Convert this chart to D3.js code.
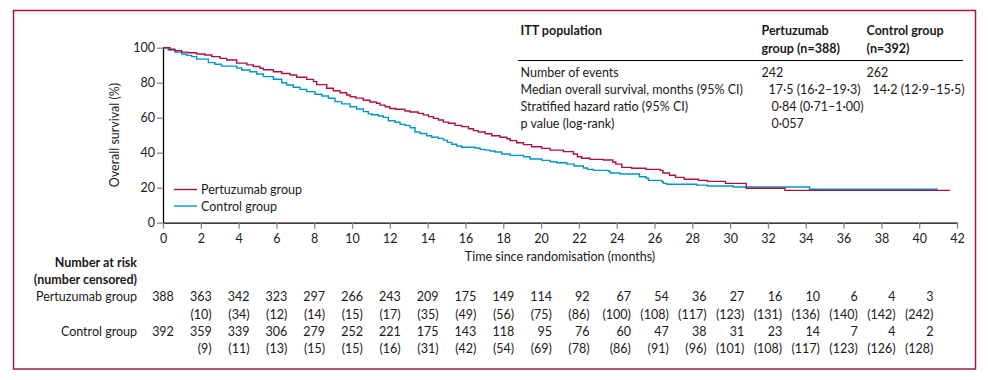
<!DOCTYPE html>
<html><head><meta charset="utf-8">
<script src="https://cdn.jsdelivr.net/npm/d3@7"></script>
<style>
html,body{margin:0;padding:0;background:#fff;}
svg text{font-family:Lato,"Open Sans",sans-serif;fill:#1a1a1a;}
</style></head>
<body><svg id="c" width="988" height="380"></svg>
<script>
// ---- data ----
const pertTimes = [0,0.37,0.63,0.99,1.34,1.78,2.22,2.58,3.02,3.37,3.9,4.44,4.78,5.13,5.31,5.84,6.28,6.72,7.07,7.6,7.96,8.13,8.66,9.01,9.37,9.72,9.9,10.2,10.6,10.95,11.3,11.48,11.75,12.0,12.3,12.8,13.07,13.5,13.77,14.04,14.3,14.57,14.83,15.1,15.45,15.8,16.16,16.42,16.68,17.04,17.39,17.83,18.19,18.36,18.71,19.07,19.5,20.04,20.48,21.18,21.71,21.92,22.15,22.59,23.3,23.79,23.95,24.27,24.79,25.55,26.3,26.44,26.79,27.11,27.57,28.33,28.8,29.75,30.85,32.9,41.64];
const pertSurv  = [100,99.1,98.3,97.5,97.1,96.4,95.8,94.9,93.9,93.0,91.2,90.2,89.3,88.3,87.4,86.3,85.3,84.4,83.1,81.9,80.6,78.9,76.8,75.4,74.3,73.0,72.0,71.2,70.0,69.0,68.3,67.2,66.3,65.3,64.8,63.8,63.3,62.5,61.6,60.6,59.6,58.7,57.5,56.8,55.6,54.9,53.7,52.6,51.8,50.8,49.7,48.8,48.0,46.9,45.7,44.6,43.4,42.5,41.5,40.6,39.3,37.7,36.8,36.2,35.8,34.7,33.5,31.6,31.1,30.5,29.9,28.4,27.1,25.9,24.8,24.2,23.6,22.5,19.7,18.5,18.5];
const ctrlTimes = [0,0.28,0.63,0.99,1.25,1.52,1.78,2.4,2.75,3.1,3.9,4.16,4.6,4.96,5.31,5.84,6.28,6.54,6.89,7.25,7.6,8.04,8.4,8.75,9.1,9.45,9.89,10.24,10.6,10.86,11.04,11.39,11.66,11.92,12.28,12.54,12.8,13.07,13.33,13.6,13.95,14.21,14.57,14.83,15.04,15.27,15.54,15.8,16.5,16.77,17.04,17.3,17.57,17.92,18.36,19.07,19.42,20.04,20.48,20.83,21.36,21.75,22.24,22.45,22.77,23.56,23.65,24.18,25.2,25.55,25.68,26.39,26.47,26.65,28.24,28.8,30.17,34.2,40.99];
const ctrlSurv  = [100,98.7,97.5,96.4,95.6,94.9,93.5,91.5,90.5,89.5,88.4,87.3,86.3,85.0,83.5,82.0,80.0,78.7,77.4,76.2,74.9,73.4,72.4,71.1,69.2,67.9,66.3,65.0,63.5,62.2,61.7,61.0,60.2,58.3,57.4,56.2,55.6,54.3,51.8,51.0,49.7,48.8,48.2,47.2,45.9,44.8,43.8,43.1,42.7,41.9,41.5,41.0,40.4,39.3,38.5,37.7,36.4,35.6,34.8,34.3,33.5,32.4,31.3,30.5,29.9,29.4,28.4,27.8,26.3,25.4,24.2,23.4,22.5,22.0,21.5,21.0,20.4,19.1,19.1];

const xTicks = d3.range(0, 43, 2);
const yTicks = [0, 20, 40, 60, 80, 100];
const seriesNames = ["Pertuzumab group", "Control group"];
const seriesColors = ["#b0103c", "#0095c6"];

const riskTimes = d3.range(0, 41, 2);
const pertAtRisk = [388,363,342,323,297,266,243,209,175,149,114,92,67,54,36,27,16,10,6,4,3];
const pertCensored = [null,10,34,12,14,15,17,35,49,56,75,86,100,108,117,123,131,136,140,142,242];
const ctrlAtRisk = [392,359,339,306,279,252,221,175,143,118,95,76,60,47,38,31,23,14,7,4,2];
const ctrlCensored = [null,9,11,13,15,15,16,31,42,54,69,78,86,91,96,101,108,117,123,126,128];

const tableTitle = "ITT population";
const colHeads = [["Pertuzumab", "group (n=388)"], ["Control group", "(n=392)"]];
const rowLabels = ["Number of events", "Median overall survival, months (95% CI)", "Stratified hazard ratio (95% CI)", "p value (log-rank)"];
const pertStats = ["242", "17·5 (16·2–19·3)", "0·84 (0·71–1·00)", "0·057"];
const ctrlStats = ["262", "14·2 (12·9–15·5)", "", ""];

// ---- layout ----
const FS = 12.5;
const svg = d3.select("#c");
const L = 163, R = 957, T = 47.7, B = 222.7;
const x = d3.scaleLinear().domain([0, 42]).range([L, R]);
const y = d3.scaleLinear().domain([0, 100]).range([B, T]);

svg.append("rect").attr("x", 13.5).attr("y", 10.5).attr("width", 962).attr("height", 358.5)
  .attr("fill", "none").attr("stroke", "#a8173f").attr("stroke-width", 1.5);

// axes
const yAx = svg.append("g").attr("transform", `translate(${L},0)`)
  .call(d3.axisLeft(y).tickValues(yTicks).tickSize(6).tickSizeOuter(0).tickPadding(2));
const xAx = svg.append("g").attr("transform", `translate(0,${B})`)
  .call(d3.axisBottom(x).tickValues(xTicks).tickSize(6).tickSizeOuter(0).tickPadding(5));
[yAx, xAx].forEach(g => {
  g.select(".domain").attr("stroke", "#000").attr("stroke-width", 1.3);
  g.selectAll(".tick line").attr("stroke", "#888").attr("stroke-width", 1.3);
  g.selectAll(".tick text").style("font-family", "Lato").style("font-size", FS + "px").attr("fill", "#1a1a1a");
});
svg.append("text").attr("transform", "translate(119,135) rotate(-90)")
  .attr("text-anchor", "middle").attr("font-size", FS).text("Overall survival (%)");
svg.append("text").attr("x", (L + R) / 2).attr("y", 261).attr("text-anchor", "middle")
  .attr("font-size", FS).text("Time since randomisation (months)");

// curves
const line = d3.line().x(d => x(d[0])).y(d => y(d[1])).curve(d3.curveStepAfter);
const curves = [d3.zip(pertTimes, pertSurv), d3.zip(ctrlTimes, ctrlSurv)];
[1, 0].forEach(i => {
  svg.append("path").attr("d", line(curves[i])).attr("fill", "none")
    .attr("stroke", seriesColors[i]).attr("stroke-width", 1.4);
});

// legend
seriesNames.forEach((n, i) => {
  const ly = 189.5 + i * 16.5;
  svg.append("line").attr("x1", 174).attr("x2", 197).attr("y1", ly).attr("y2", ly)
    .attr("stroke", seriesColors[i]).attr("stroke-width", 1.4);
  svg.append("text").attr("x", 201).attr("y", ly + 4.5).attr("font-size", FS).text(n);
});

// stats table
const tx = 520.5, c1 = 761.5, c2 = 866.5;
svg.append("text").attr("x", tx).attr("y", 34.5).attr("font-size", FS).attr("font-weight", "bold").text(tableTitle);
colHeads.forEach((h, i) => {
  h.forEach((s, j) => svg.append("text").attr("x", i ? c2 : c1).attr("y", 34.5 + j * 18)
    .attr("font-size", FS).attr("font-weight", "bold").text(s));
});
svg.append("line").attr("x1", 518).attr("x2", 963).attr("y1", 60.5).attr("y2", 60.5)
  .attr("stroke", "#000").attr("stroke-width", 1);
const statOff1 = [0, 7, 10, 10], statOff2 = [0, 6, 0, 0];
rowLabels.forEach((s, i) => {
  const yy = 76.5 + i * 17;
  svg.append("text").attr("x", tx).attr("y", yy).attr("font-size", FS).text(s);
  svg.append("text").attr("x", c1 + statOff1[i]).attr("y", yy).attr("font-size", FS).text(pertStats[i]);
  svg.append("text").attr("x", c2 + statOff2[i]).attr("y", yy).attr("font-size", FS).text(ctrlStats[i]);
});

// risk table
const lx = 137;
svg.append("text").attr("x", lx).attr("y", 266.5).attr("text-anchor", "end").attr("font-size", FS).attr("font-weight", "bold").text("Number at risk");
svg.append("text").attr("x", lx).attr("y", 284).attr("text-anchor", "end").attr("font-size", FS).attr("font-weight", "bold").text("(number censored)");
const rowY = [301, 318.5, 335.5, 352.5];
svg.append("text").attr("x", lx).attr("y", rowY[0]).attr("text-anchor", "end").attr("font-size", FS).text(seriesNames[0]);
svg.append("text").attr("x", lx).attr("y", rowY[2]).attr("text-anchor", "end").attr("font-size", FS).text(seriesNames[1]);
const probe = svg.append("text").attr("font-size", FS).attr("visibility", "hidden");
const w = s => { probe.text(s); return probe.node().getComputedTextLength(); };
riskTimes.forEach((t, i) => {
  const cells = [String(pertAtRisk[i]), pertCensored[i] == null ? "" : `(${pertCensored[i]})`,
                 String(ctrlAtRisk[i]), ctrlCensored[i] == null ? "" : `(${ctrlCensored[i]})`];
  const mw = d3.max(cells, w);
  const rx = x(t) + mw / 2;
  cells.forEach((s, j) => {
    if (s) svg.append("text").attr("x", rx).attr("y", rowY[j]).attr("text-anchor", "end").attr("font-size", FS).text(s);
  });
});
probe.remove();
</script></body></html>
